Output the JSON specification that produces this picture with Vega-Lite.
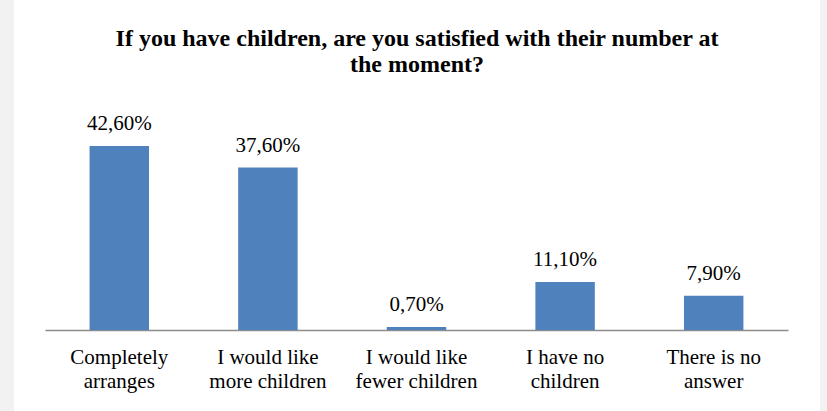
{
  "$schema": "https://vega.github.io/schema/vega-lite/v6.json",
  "width": 806,
  "height": 411,
  "autosize": "none",
  "padding": {"left": 14, "right": 7, "top": 0, "bottom": 0},
  "background": "#f2f2f2",
  "config": {
    "view": {"fill": "white", "stroke": null},
    "locale": {"number": {"decimal": ",", "thousands": " ", "grouping": [3], "currency": ["", ""]}}
  },
  "title": {
    "text": ["If you have children, are you satisfied with their number at", "the moment?"],
    "font": "Liberation Serif",
    "fontSize": 24,
    "fontWeight": "bold",
    "color": "black",
    "anchor": "middle",
    "lineHeight": 26,
    "offset": -77
  },
  "data": {
    "values": [
      {"category": "Completely\narranges", "share": 0.426},
      {"category": "I would like\nmore children", "share": 0.376},
      {"category": "I would like\nfewer children", "share": 0.007},
      {"category": "I have no\nchildren", "share": 0.111},
      {"category": "There is no\nanswer", "share": 0.079}
    ]
  },
  "encoding": {
    "x": {
      "field": "category",
      "type": "nominal",
      "sort": null,
      "scale": {"range": [31, 774], "paddingInner": 0.6, "paddingOuter": 0.3},
      "axis": {
        "title": null,
        "labelAngle": 0,
        "labelExpr": "split(datum.label, '\\n')",
        "labelFont": "Liberation Serif",
        "labelFontSize": 21,
        "labelColor": "black",
        "labelLineHeight": 24,
        "labelPadding": 16,
        "ticks": false,
        "domainColor": "#8c8c8c",
        "domainWidth": 1.5,
        "offset": -81
      }
    },
    "y": {
      "field": "share",
      "type": "quantitative",
      "scale": {"domain": [0, 0.5], "range": [330, 114]},
      "axis": null
    }
  },
  "layer": [
    {"mark": {"type": "bar", "color": "#4F81BD"}},
    {
      "mark": {"type": "text", "baseline": "alphabetic", "dy": -16, "font": "Liberation Serif", "fontSize": 21, "color": "black"},
      "encoding": {"text": {"field": "share", "type": "quantitative", "format": ".2%"}}
    }
  ]
}
